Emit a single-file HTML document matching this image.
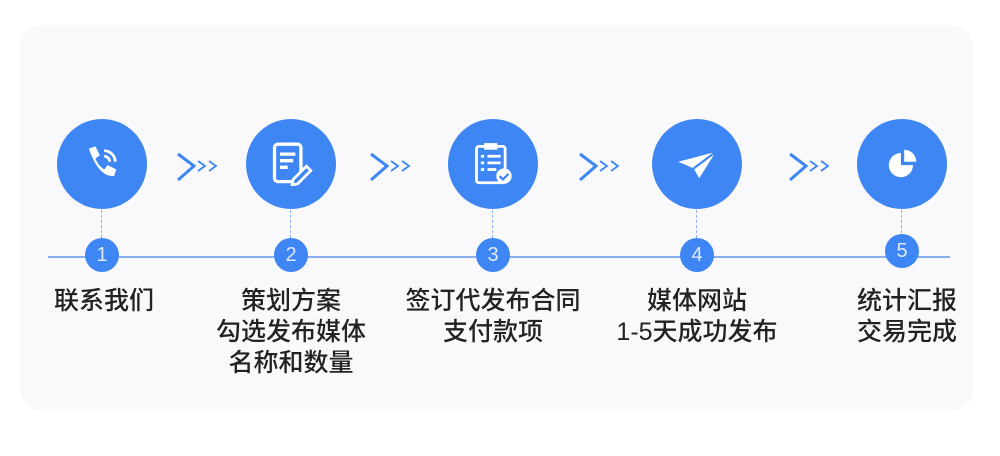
<!DOCTYPE html>
<html><head><meta charset="utf-8"><style>
body{margin:0;width:1000px;height:456px;background:#fff;position:relative;overflow:hidden;font-family:"Liberation Sans","Noto Sans CJK SC",sans-serif}
.panel{position:absolute;left:20px;top:25px;width:953px;height:386px;background:#f9f9fb;border-radius:22px}
.big{position:absolute;width:90px;height:90px;border-radius:50%;background:#3d86f4;}
.big svg{position:absolute;left:23px;top:23px}
.sm{position:absolute;width:34px;height:34px;border-radius:50%;background:#3d86f4;color:#dfe9ff;font-size:20px;text-align:center;line-height:34px}
.dash{position:absolute;width:0;border-left:1.5px dashed #8fb4f2;height:28px}
.lbl{position:absolute;width:220px;text-align:center;color:#222;font-size:25px;line-height:31px;font-weight:500}
.line{position:absolute;left:48px;top:256px;width:902px;height:2px;background:#88aef0}
.ch{position:absolute}
</style></head><body>
<div class="panel"></div>
<div class="line"></div>
<div class="big" style="left:57px;top:119px"><svg width="44" height="44" viewBox="0 0 40 40"><path d="M8 6 l6 -2 4 8 -4 3 q2 6 8 10 l3 -4 8 4 -2 6 q-14 1 -23 -25z" fill="#fff"/><path d="M22 8 a10 10 0 0 1 10 10 M22 13 a5 5 0 0 1 5 5" stroke="#fff" stroke-width="2.5" fill="none"/></svg></div>
<div class="big" style="left:246px;top:119px"><svg width="44" height="44" viewBox="0 0 40 40"><rect x="5" y="2" width="24" height="34" rx="3" fill="none" stroke="#fff" stroke-width="3"/><path d="M10 11h14M10 17h12M10 23h7" stroke="#fff" stroke-width="3"/><path d="M22 34 l12 -12 4 4 -12 12 -5 1z" fill="#3d86f4" stroke="#fff" stroke-width="2.5"/></svg></div>
<div class="big" style="left:448px;top:119px"><svg width="44" height="44" viewBox="0 0 40 40"><rect x="5" y="4" width="26" height="33" rx="2" fill="none" stroke="#fff" stroke-width="2.5"/><rect x="12" y="1" width="12" height="6" fill="#fff"/><path d="M9 13h3M15 13h12M9 19h3M15 19h12M9 25h3M15 25h8" stroke="#fff" stroke-width="2.5"/><circle cx="30" cy="31" r="7" fill="#fff"/><path d="M26 31l3 3 5 -5" stroke="#3d86f4" stroke-width="2" fill="none"/></svg></div>
<div class="big" style="left:652px;top:119px"><svg width="44" height="44" viewBox="0 0 40 40"><path d="M3 18 L37 9 L22 33 L17 24z" fill="#fff"/><path d="M17 24 L37 9" stroke="#3d86f4" stroke-width="2"/></svg></div>
<div class="big" style="left:857px;top:119px"><svg width="44" height="44" viewBox="0 0 40 40"><path d="M19 10 A11 11 0 1 0 30 21 L19 21z" fill="#fff"/><path d="M22 7 A11 11 0 0 1 33 18 L22 18z" fill="#fff"/></svg></div>
<div class="dash" style="left:101px;top:210px"></div>
<div class="dash" style="left:290px;top:210px"></div>
<div class="dash" style="left:492px;top:210px"></div>
<div class="dash" style="left:696px;top:210px"></div>
<div class="dash" style="left:901px;top:210px"></div>
<div class="sm" style="left:85px;top:238px">1</div>
<div class="sm" style="left:274px;top:238px">2</div>
<div class="sm" style="left:476px;top:238px">3</div>
<div class="sm" style="left:680px;top:238px">4</div>
<div class="sm" style="left:885px;top:234px">5</div>
<svg class="ch" style="left:176px;top:152px" width="48" height="30"><g fill="none" stroke="#3d86f4"><path d="M2 2 L18 14 L2 28" stroke-width="3"/><path d="M22 9 L29 14 L22 19" stroke-width="1.8"/><path d="M33 9 L40 14 L33 19" stroke-width="1.8"/></g></svg>
<svg class="ch" style="left:369px;top:152px" width="48" height="30"><g fill="none" stroke="#3d86f4"><path d="M2 2 L18 14 L2 28" stroke-width="3"/><path d="M22 9 L29 14 L22 19" stroke-width="1.8"/><path d="M33 9 L40 14 L33 19" stroke-width="1.8"/></g></svg>
<svg class="ch" style="left:578px;top:152px" width="48" height="30"><g fill="none" stroke="#3d86f4"><path d="M2 2 L18 14 L2 28" stroke-width="3"/><path d="M22 9 L29 14 L22 19" stroke-width="1.8"/><path d="M33 9 L40 14 L33 19" stroke-width="1.8"/></g></svg>
<svg class="ch" style="left:788px;top:152px" width="48" height="30"><g fill="none" stroke="#3d86f4"><path d="M2 2 L18 14 L2 28" stroke-width="3"/><path d="M22 9 L29 14 L22 19" stroke-width="1.8"/><path d="M33 9 L40 14 L33 19" stroke-width="1.8"/></g></svg>
<div class="lbl" style="left:-6px;top:286px">联系我们</div>
<div class="lbl" style="left:181px;top:286px">策划方案<br>勾选发布媒体<br>名称和数量</div>
<div class="lbl" style="left:383px;top:286px">签订代发布合同<br>支付款项</div>
<div class="lbl" style="left:587px;top:286px">媒体网站<br>1-5天成功发布</div>
<div class="lbl" style="left:797px;top:286px">统计汇报<br>交易完成</div>
</body></html>
